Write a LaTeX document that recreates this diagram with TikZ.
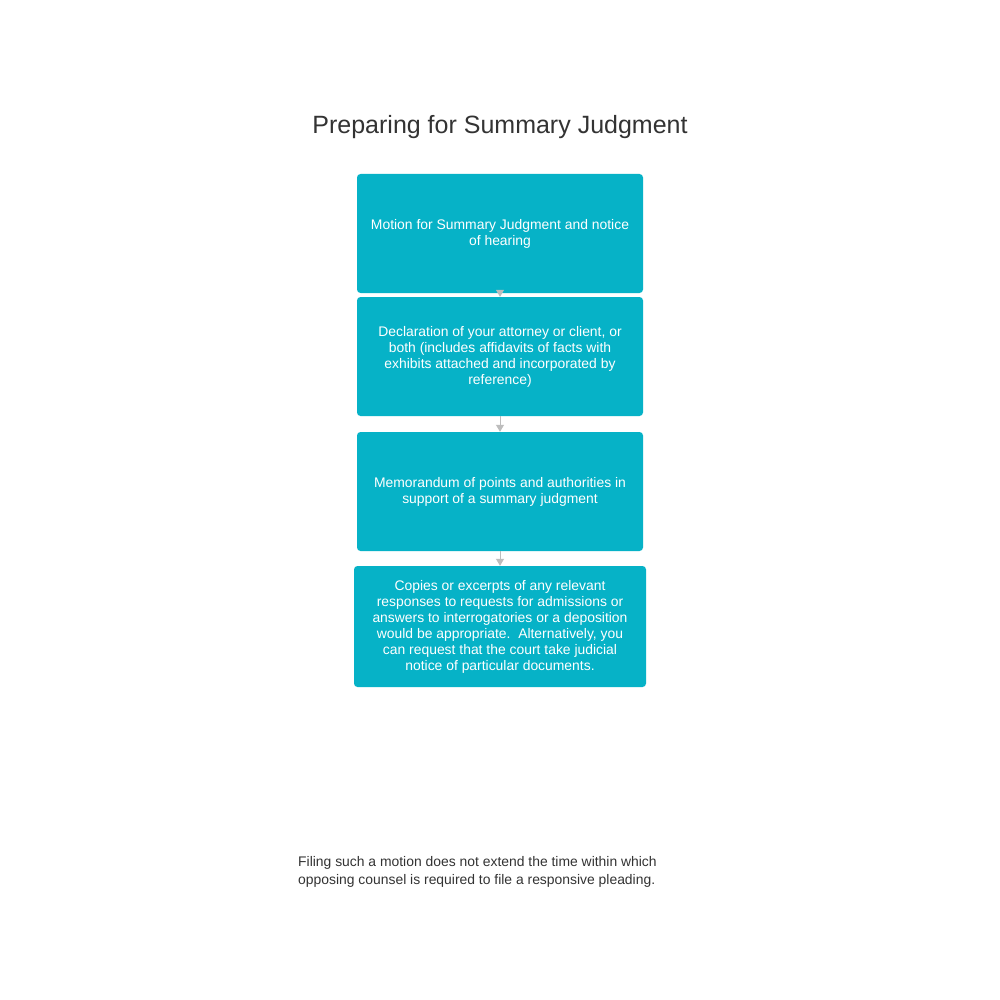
\documentclass[tikz,border=0pt]{standalone}
\usepackage{fontspec}
\setmainfont{Liberation Sans}
\usetikzlibrary{arrows.meta}
\definecolor{boxfill}{HTML}{06B2C7}
\definecolor{arrowgray}{HTML}{BDBDBD}
\definecolor{txtgray}{HTML}{333333}
\begin{document}
\begin{tikzpicture}[x=1pt,y=-1pt,
  stepbox/.style={draw=none, fill=boxfill, rounded corners=3.5pt, text=white,
    align=center, inner sep=0pt, font=\fontsize{13.9}{16}\selectfont,
    execute at begin node={\rule{0pt}{20pt}}},
  conn/.style={draw=arrowgray, line width=1pt, -{Triangle[length=7pt,width=8pt]}}]
\useasboundingbox (0,0) rectangle (1000,1000);
\fill[white] (0,0) rectangle (1000,1000);
\node[text=txtgray, font=\fontsize{25}{29}\selectfont] (title) at (500,127) {Preparing for Summary Judgment};
\node[stepbox, minimum width=286pt, minimum height=119pt] (b1) at (500,233.5)
  {Motion for Summary Judgment and notice\\of hearing};
\node[stepbox, minimum width=286pt, minimum height=119pt] (b2) at (500,356.5)
  {Declaration of your attorney or client, or\\both (includes affidavits of facts with\\exhibits attached and incorporated by\\reference)};
\node[stepbox, minimum width=286pt, minimum height=119pt] (b3) at (500,491.5)
  {Memorandum of points and authorities in\\support of a summary judgment};
\node[stepbox, minimum width=292pt, minimum height=121pt] (b4) at (500,626.5)
  {Copies or excerpts of any relevant\\responses to requests for admissions or\\answers to interrogatories or a deposition\\would be appropriate.\ \ Alternatively, you\\can request that the court take judicial\\notice of particular documents.};
\draw[conn] (b1.south) -- (b2.north);
\draw[conn] (b2.south) -- (b3.north);
\draw[conn] (b3.south) -- (b4.north);
\node[text=txtgray, align=left, anchor=north west, inner sep=0pt,
  font=\fontsize{13.9}{18}\selectfont] (note) at (298,856)
  {Filing such a motion does not extend the time within which\\opposing counsel is required to file a responsive pleading.};
\end{tikzpicture}
\end{document}
